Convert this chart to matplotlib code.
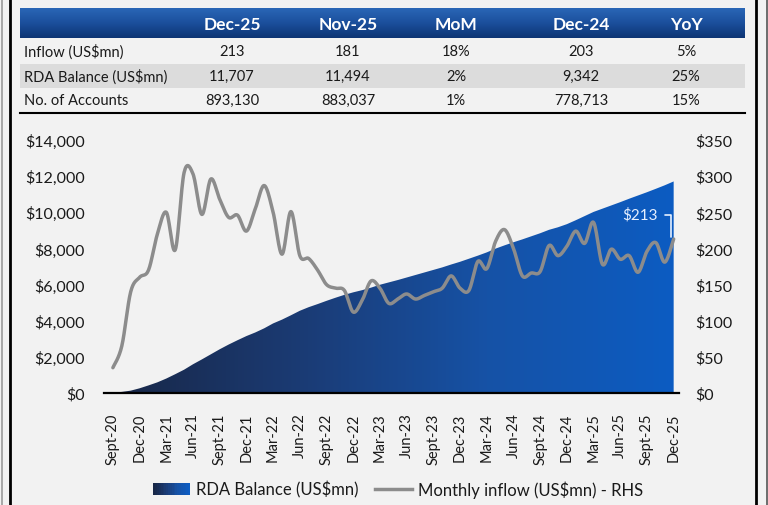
import numpy as np
import matplotlib
matplotlib.use("Agg")
from matplotlib import pyplot as plt
from matplotlib.colors import LinearSegmentedColormap
from matplotlib.patches import Rectangle, Polygon
from matplotlib.lines import Line2D
from matplotlib.legend_handler import HandlerBase

plt.rcParams['font.family'] = ['Lato', 'DejaVu Sans']

# Summary table
col_heads = ["Dec-25", "Nov-25", "MoM", "Dec-24", "YoY"]
row_labels = ["Inflow (US$mn)", "RDA Balance (US$mn)", "No. of Accounts"]
table_vals = [
    ["213", "181", "18%", "203", "5%"],
    ["11,707", "11,494", "2%", "9,342", "25%"],
    ["893,130", "883,037", "1%", "778,713", "15%"],
]

# Monthly series, Sept-20 .. Dec-25
months = ["Sept-20", "Oct-20", "Nov-20", "Dec-20", "Jan-21", "Feb-21", "Mar-21", "Apr-21",
          "May-21", "Jun-21", "Jul-21", "Aug-21", "Sept-21", "Oct-21", "Nov-21", "Dec-21",
          "Jan-22", "Feb-22", "Mar-22", "Apr-22", "May-22", "Jun-22", "Jul-22", "Aug-22",
          "Sept-22", "Oct-22", "Nov-22", "Dec-22", "Jan-23", "Feb-23", "Mar-23", "Apr-23",
          "May-23", "Jun-23", "Jul-23", "Aug-23", "Sept-23", "Oct-23", "Nov-23", "Dec-23",
          "Jan-24", "Feb-24", "Mar-24", "Apr-24", "May-24", "Jun-24", "Jul-24", "Aug-24",
          "Sept-24", "Oct-24", "Nov-24", "Dec-24", "Jan-25", "Feb-25", "Mar-25", "Apr-25",
          "May-25", "Jun-25", "Jul-25", "Aug-25", "Sept-25", "Oct-25", "Nov-25", "Dec-25"]

balance = [20, 60, 130, 260, 420, 590, 800, 1040, 1290, 1590, 1860, 2140, 2420, 2680, 2920, 3150,
           3350, 3580, 3850, 4060, 4300, 4550, 4750, 4920, 5100, 5270, 5430, 5570, 5690, 5830, 5990, 6120,
           6250, 6390, 6530, 6670, 6810, 6950, 7110, 7260, 7430, 7600, 7780, 7990, 8170, 8340, 8500, 8670,
           8840, 9030, 9170, 9342, 9560, 9790, 10020, 10200, 10380, 10560, 10750, 10930, 11110, 11300, 11494, 11707]

inflow = [35, 65, 140, 160, 170, 220, 250, 198, 305, 303, 247, 296, 268, 243, 246, 224,
          255, 287, 250, 192, 251, 190, 186, 170, 150, 145, 142, 112, 128, 155, 145, 124,
          130, 137, 130, 135, 140, 145, 162, 145, 142, 182, 172, 210, 226, 200, 162, 166,
          168, 204, 190, 203, 224, 207, 236, 178, 199, 185, 190, 167, 196, 208, 181, 213]

left_ticks = [0, 2000, 4000, 6000, 8000, 10000, 12000, 14000]
right_ticks = [0, 50, 100, 150, 200, 250, 300, 350]

W, H = 768, 506
BG = "#f2f2f2"
TXT = "#1a1a1a"


def fx(px):
    return px / W


def fy(py):
    return 1 - py / H


def smooth(x, y, n=16):
    # Catmull-Rom curve through the points (like Excel smoothed lines)
    x = np.asarray(x, float)
    y = np.asarray(y, float)
    px = np.r_[x[0], x, x[-1]]
    py = np.r_[y[0], y, y[-1]]
    xs, ys = [], []
    t = np.linspace(0, 1, n, endpoint=False)
    for i in range(1, len(px) - 2):
        for arr, out in ((px, xs), (py, ys)):
            p0, p1, p2, p3 = arr[i - 1], arr[i], arr[i + 1], arr[i + 2]
            out.extend(0.5 * ((2 * p1) + (-p0 + p2) * t + (2 * p0 - 5 * p1 + 4 * p2 - p3) * t ** 2
                              + (-p0 + 3 * p1 - 3 * p2 + p3) * t ** 3))
    xs.append(x[-1])
    ys.append(y[-1])
    return np.array(xs), np.array(ys)


area_cmap = LinearSegmentedColormap.from_list("area", ["#182747", "#1b3b74", "#1652a6", "#0c5cc2"])
head_cmap = LinearSegmentedColormap.from_list("head", ["#2a66b6", "#1b4f9c", "#0d3574"])


class GradientHandler(HandlerBase):
    def create_artists(self, legend, orig_handle, xdescent, ydescent, width, height, fontsize, trans):
        arts = []
        n = 20
        for i in range(n):
            r = Rectangle((xdescent + width * i / n, ydescent), width / n + 0.3, height,
                          facecolor=area_cmap(i / (n - 1)), edgecolor="none", transform=trans)
            arts.append(r)
        return arts


fig = plt.figure(figsize=(W / 100, H / 100), dpi=100, facecolor=BG)

# outer frame lines
fig.add_artist(Line2D([fx(2), fx(2)], [0, 1], color="#9a9a9a", lw=1.2))
fig.add_artist(Line2D([fx(9.5), fx(9.5)], [0, 1], color="black", lw=2))
fig.add_artist(Line2D([fx(756), fx(756)], [0, 1], color="black", lw=2))
fig.add_artist(Line2D([fx(767), fx(767)], [0, 1], color="#555555", lw=1.2))

# table header band with vertical gradient
hax = fig.add_axes([fx(20), fy(39), fx(745) - fx(20), fy(9) - fy(39)])
hax.imshow(np.linspace(0, 1, 50).reshape(-1, 1), aspect="auto", cmap=head_cmap, extent=[0, 1, 0, 1])
hax.set_axis_off()

# shaded middle row and bottom rule
fig.add_artist(Rectangle((fx(20), fy(89)), fx(745) - fx(20), fy(65) - fy(89),
                         transform=fig.transFigure, facecolor="#dcdcdc", edgecolor="none"))
fig.add_artist(Line2D([fx(20), fx(745)], [fy(114), fy(114)], color="black", lw=1.5))

col_x = [232, 348, 456, 581, 686]
head_y = 25
row_y = [52, 77, 101]
for cx, head in zip(col_x, col_heads):
    fig.text(fx(cx), fy(head_y), head, ha="center", va="center", color="white",
             fontsize=12.5, fontweight="bold")
for ry, lab, vals in zip(row_y, row_labels, table_vals):
    fig.text(fx(24), fy(ry), lab, ha="left", va="center", color=TXT, fontsize=10.5)
    for cx, v in zip(col_x, vals):
        fig.text(fx(cx), fy(ry), v, ha="center", va="center", color=TXT, fontsize=10.5)

# main chart
ax = fig.add_axes([fx(104), fy(394), fx(679) - fx(104), fy(141) - fy(394)])
ax.set_facecolor(BG)
x = np.arange(len(months))

grad = ax.imshow(np.linspace(0, 1, 256).reshape(1, -1), aspect="auto", cmap=area_cmap,
                 extent=[x[0], x[-1], 0, 14000], zorder=1)
poly = Polygon(np.column_stack([np.r_[x[0], x, x[-1]], np.r_[0, balance, 0]]),
               closed=True, facecolor="none", edgecolor="none", transform=ax.transData)
ax.add_patch(poly)
grad.set_clip_path(poly)
ax.set_xlim(-1.0, len(months) - 0.4)
ax.set_ylim(0, 14000)

for s in ["top", "right", "left"]:
    ax.spines[s].set_visible(False)
ax.spines["bottom"].set_color("black")
ax.spines["bottom"].set_linewidth(1.6)
ax.spines["bottom"].set_zorder(5)
ax.set_yticks(left_ticks)
ax.set_yticklabels([f"${v:,}" for v in left_ticks])
ax.tick_params(axis="y", length=0, pad=14, labelsize=11.5, labelcolor=TXT)
ax.set_xticks(x[::3])
ax.set_xticklabels(months[::3], rotation=90, fontsize=10.5, color=TXT)
ax.tick_params(axis="x", length=0, pad=14)

ax2 = ax.twinx()
ax2.set_ylim(0, 350)
for s in ["top", "right", "left", "bottom"]:
    ax2.spines[s].set_visible(False)
sx, sy = smooth(x, inflow)
ax2.plot(sx, sy, color="#8c8c8c", lw=2.5, solid_capstyle="round", zorder=3)
ax2.set_yticks(right_ticks)
ax2.set_yticklabels([f"${v}" for v in right_ticks])
ax2.tick_params(axis="y", length=0, pad=12, labelsize=11.5, labelcolor=TXT)

ax2.annotate(f"${inflow[-1]}", xy=(x[-1] - 0.35, inflow[-1] + 3), xytext=(-22, 16),
             textcoords="offset points", ha="center", va="center", color="#e6f0ff", fontsize=11,
             arrowprops=dict(arrowstyle="-", color="#e6f0ff", lw=1.2,
                             connectionstyle="angle,angleA=0,angleB=90,rad=0", shrinkA=3, shrinkB=0))

handles = [Rectangle((0, 0), 1, 1), Line2D([0], [0], color="#8c8c8c", lw=2.5)]
fig.legend(handles, ["RDA Balance (US$mn)", "Monthly inflow (US$mn) - RHS"],
           handler_map={Rectangle: GradientHandler()},
           loc="center", bbox_to_anchor=(fx(398), fy(490)), ncol=2, frameon=False,
           fontsize=12, handlelength=2.2, handleheight=0.7, handletextpad=0.35, columnspacing=1.0,
           labelcolor=TXT)

fig.savefig("out.png", dpi=100, facecolor=BG)
